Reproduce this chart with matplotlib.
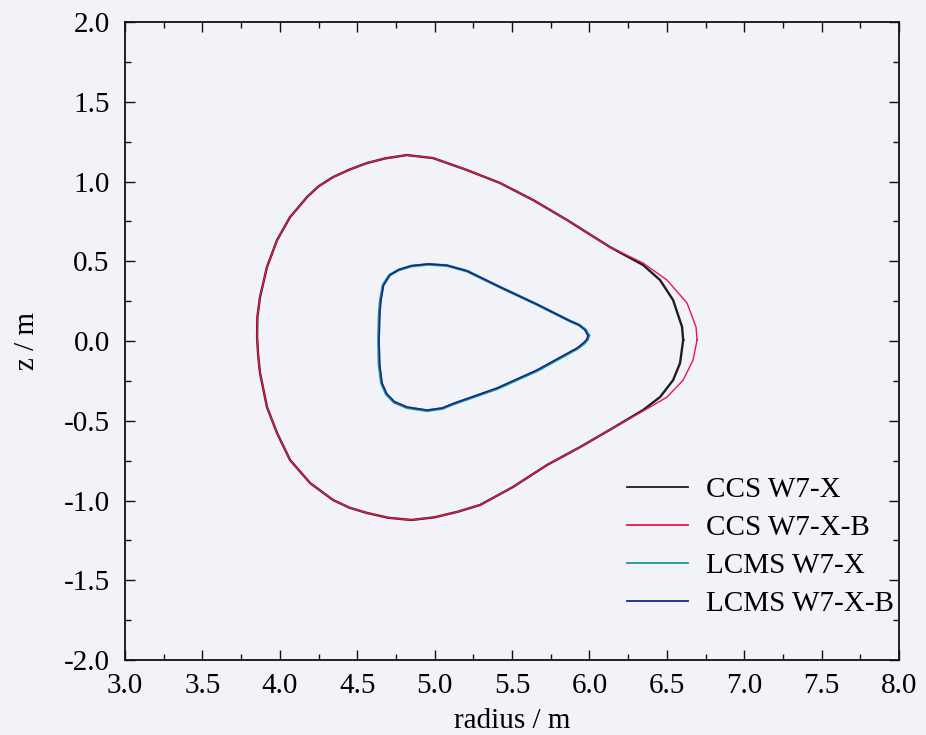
import matplotlib
matplotlib.use("Agg")
import matplotlib.pyplot as plt
from matplotlib.ticker import MultipleLocator, FormatStrFormatter

plt.rcParams['font.family'] = ['Liberation Serif', 'DejaVu Serif']
plt.rcParams['axes.unicode_minus'] = False

# ---- data (radius / m, z / m) ----
ccs_w7x_r = [6.605, 6.598, 6.540, 6.456, 6.346, 6.133, 6.000, 5.855, 5.636, 5.422, 5.209,
             4.990, 4.820, 4.680, 4.563, 4.450, 4.344, 4.250, 4.176, 4.066, 3.982, 3.917,
             3.872, 3.855, 3.853, 3.860, 3.872, 3.917, 3.982, 4.066, 4.195, 4.344, 4.450,
             4.563, 4.700, 4.850, 5.000, 5.150, 5.293, 5.506, 5.726, 5.939, 6.152, 6.346,
             6.456, 6.540, 6.585, 6.605]
ccs_w7x_z = [0.006, 0.088, 0.257, 0.382, 0.477, 0.589, 0.670, 0.759, 0.884, 0.991, 1.072,
             1.147, 1.166, 1.145, 1.116, 1.075, 1.028, 0.970, 0.903, 0.777, 0.633, 0.464,
             0.276, 0.150, 0.025, -0.090, -0.201, -0.414, -0.577, -0.746, -0.890, -0.997, -1.045,
             -1.078, -1.108, -1.122, -1.105, -1.070, -1.028, -0.915, -0.777, -0.665, -0.545, -0.433,
             -0.351, -0.245, -0.138, 0.006]

ccs_w7xb_r = [6.695, 6.688, 6.630, 6.501, 6.346, 6.133, 6.000, 5.855, 5.636, 5.422, 5.209,
              4.990, 4.820, 4.680, 4.563, 4.450, 4.344, 4.250, 4.176, 4.066, 3.982, 3.917,
              3.872, 3.855, 3.853, 3.860, 3.872, 3.917, 3.982, 4.066, 4.195, 4.344, 4.450,
              4.563, 4.700, 4.850, 5.000, 5.150, 5.293, 5.506, 5.726, 5.939, 6.152, 6.391,
              6.501, 6.605, 6.669, 6.695]
ccs_w7xb_z = [0.006, 0.088, 0.238, 0.382, 0.489, 0.589, 0.670, 0.759, 0.884, 0.991, 1.072,
              1.147, 1.166, 1.145, 1.116, 1.075, 1.028, 0.970, 0.903, 0.777, 0.633, 0.464,
              0.276, 0.150, 0.025, -0.090, -0.201, -0.414, -0.577, -0.746, -0.890, -0.997, -1.045,
              -1.078, -1.108, -1.122, -1.105, -1.070, -1.028, -0.915, -0.777, -0.665, -0.545, -0.414,
              -0.351, -0.245, -0.119, 0.006]

lcms_w7x_r = [5.995, 5.975, 5.935, 5.880, 5.663, 5.424, 5.210, 5.080, 4.960, 4.850, 4.768, 4.708,
              4.666, 4.648, 4.641, 4.637, 4.641, 4.656, 4.687, 4.738, 4.822, 4.951, 5.050,
              5.121, 5.405, 5.664, 5.924, 5.965, 5.988, 5.995]
lcms_w7x_z = [0.035, 0.070, 0.100, 0.123, 0.228, 0.337, 0.438, 0.473, 0.481, 0.470, 0.446, 0.413,
              0.350, 0.250, 0.160, 0.000, -0.150, -0.265, -0.333, -0.384, -0.418, -0.437, -0.423,
              -0.395, -0.298, -0.185, -0.046, -0.015, 0.010, 0.035]

lcms_w7xb_r = [5.990, 5.970, 5.930, 5.875, 5.661, 5.422, 5.209, 5.080, 4.960, 4.850, 4.770, 4.712,
               4.670, 4.652, 4.645, 4.641, 4.645, 4.660, 4.690, 4.740, 4.822, 4.951, 5.050,
               5.119, 5.403, 5.661, 5.920, 5.960, 5.983, 5.990]
lcms_w7xb_z = [0.035, 0.070, 0.102, 0.125, 0.230, 0.339, 0.440, 0.475, 0.483, 0.472, 0.448, 0.415,
               0.350, 0.250, 0.160, 0.000, -0.150, -0.263, -0.330, -0.380, -0.414, -0.433, -0.420,
               -0.392, -0.295, -0.182, -0.044, -0.013, 0.010, 0.035]

labels = ["CCS W7-X", "CCS W7-X-B", "LCMS W7-X", "LCMS W7-X-B"]
colors = ["#1e1e1e", "#e8174c", "#1a9c8c", "#1a2590"]

bg = "#f1f3f8"
fig = plt.figure(figsize=(9.26, 7.35), dpi=100, facecolor=bg)
ax = fig.add_axes([0.135, 0.102, 0.836, 0.868], facecolor=bg)

ax.plot(ccs_w7x_r, ccs_w7x_z, color=colors[0], lw=1.7, label=labels[0])
ax.plot(ccs_w7xb_r, ccs_w7xb_z, color=colors[1], lw=1.0, label=labels[1])
ax.plot(lcms_w7x_r, lcms_w7x_z, color=colors[2], lw=2.0, label=labels[2])
ax.plot(lcms_w7xb_r, lcms_w7xb_z, color=colors[3], lw=1.2, label=labels[3])

ax.set_xlim(3.0, 8.0)
ax.set_ylim(-2.0, 2.0)
ax.xaxis.set_major_locator(MultipleLocator(0.5))
ax.xaxis.set_minor_locator(MultipleLocator(0.25))
ax.yaxis.set_major_locator(MultipleLocator(0.5))
ax.yaxis.set_minor_locator(MultipleLocator(0.25))
ax.xaxis.set_major_formatter(FormatStrFormatter('%.1f'))
ax.yaxis.set_major_formatter(FormatStrFormatter('%.1f'))
ax.tick_params(which='both', direction='in', top=True, right=True, width=1.0, color='#111111')
ax.tick_params(which='major', length=7, labelsize=21)
ax.tick_params(axis='x', which='major', pad=9)
ax.tick_params(axis='y', which='major', pad=11)
ax.tick_params(which='minor', length=4)
for s in ax.spines.values():
    s.set_linewidth(1.3)
    s.set_color('#111111')

ax.set_xlabel("radius / m", fontsize=21, labelpad=7)
ax.set_ylabel("z / m", fontsize=21, labelpad=17)

leg = ax.legend(loc='lower right', frameon=False, fontsize=21, handlelength=2.1,
                handletextpad=0.6, labelspacing=0.4, borderaxespad=0.0,
                bbox_to_anchor=(1.008, 0.049))
for h in leg.get_lines():
    h.set_linewidth(1.3)

fig.savefig("out.png", dpi=100, facecolor=bg)
